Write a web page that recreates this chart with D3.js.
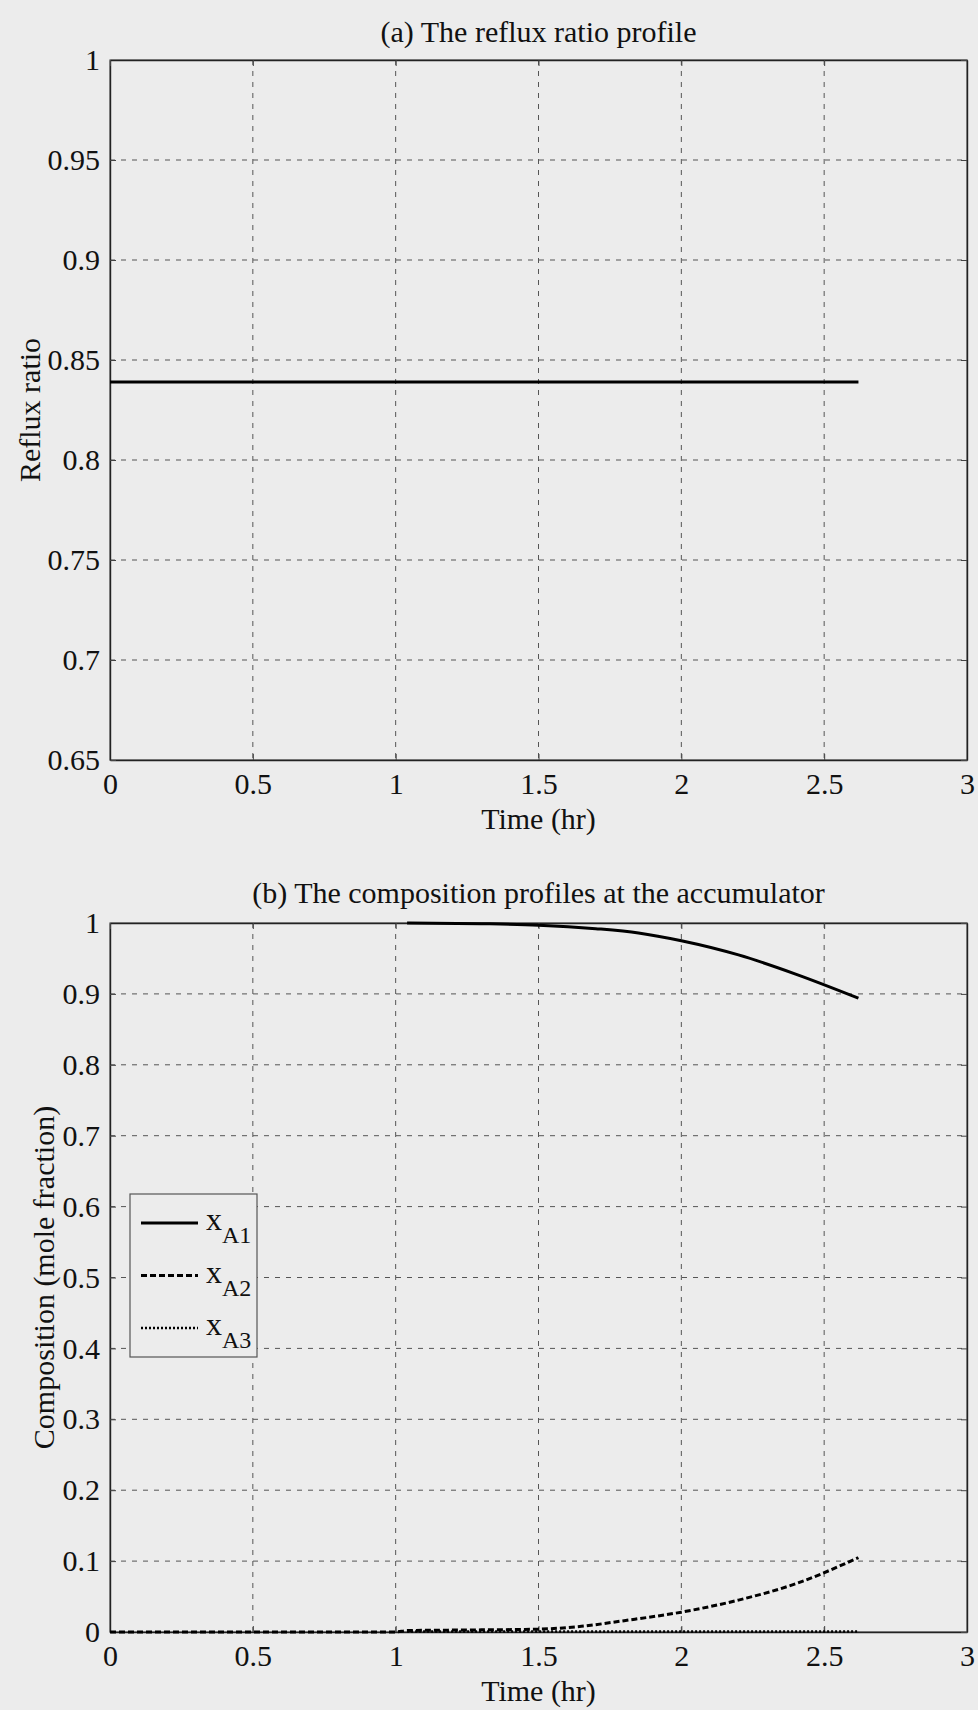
<!DOCTYPE html>
<html>
<head>
<meta charset="utf-8">
<script src="https://cdn.jsdelivr.net/npm/d3@7"></script>
<style>
  html, body { margin: 0; padding: 0; background: #ececec; }
  svg { display: block; }
  text { font-family: "Liberation Serif", "Times New Roman", serif; fill: #111; }
</style>
</head>
<body>
<svg id="chart" width="978" height="1710"></svg>
<script>
// ---------- data ----------
const xTicks = [0, 0.5, 1, 1.5, 2, 2.5, 3];
const xTickLabels = ["0", "0.5", "1", "1.5", "2", "2.5", "3"];

const refluxTicks = [0.65, 0.7, 0.75, 0.8, 0.85, 0.9, 0.95, 1];
const refluxTickLabels = ["0.65", "0.7", "0.75", "0.8", "0.85", "0.9", "0.95", "1"];
const refluxTime = [0, 2.62];
const refluxRatio = [0.839, 0.839];

const compTicks = [0, 0.1, 0.2, 0.3, 0.4, 0.5, 0.6, 0.7, 0.8, 0.9, 1];
const compTickLabels = ["0", "0.1", "0.2", "0.3", "0.4", "0.5", "0.6", "0.7", "0.8", "0.9", "1"];

const timeA1 = [1.04, 1.3, 1.5, 1.7, 1.85, 2.0, 2.2, 2.4, 2.62];
const xA1 = [1.0, 0.999, 0.997, 0.992, 0.986, 0.975, 0.955, 0.928, 0.894];

const timeA2 = [0, 0.5, 1.0, 1.04, 1.3, 1.5, 1.65, 1.8, 2.0, 2.2, 2.4, 2.62];
const xA2 = [0, 0, 0, 0.002, 0.003, 0.004, 0.008, 0.016, 0.028, 0.045, 0.068, 0.105];

const timeA3 = [1.04, 1.5, 2.0, 2.62];
const xA3 = [0.0008, 0.0008, 0.0008, 0.0008];

const legendNames = [["x", "A1"], ["x", "A2"], ["x", "A3"]];
const legendDash = [null, "6,3", "2,2"];

// ---------- layout ----------
const svg = d3.select("#chart");
const left = 110, right = 967;
const FONT = 30;

function panel(cfg) {
  const g = svg.append("g");
  const x = d3.scaleLinear().domain([0, 3]).range([left, right]);
  const y = d3.scaleLinear().domain(cfg.yDomain).range([cfg.bottom, cfg.top]);

  // grid
  g.append("g").selectAll("line.vg").data(xTicks.slice(1, -1)).join("line")
    .attr("x1", d => x(d)).attr("x2", d => x(d))
    .attr("y1", cfg.top).attr("y2", cfg.bottom)
    .attr("stroke", "#555").attr("stroke-width", 1).attr("stroke-dasharray", "5,6");
  g.append("g").selectAll("line.hg").data(cfg.yTicks.slice(1, -1)).join("line")
    .attr("x1", left).attr("x2", right)
    .attr("y1", d => y(d)).attr("y2", d => y(d))
    .attr("stroke", "#555").attr("stroke-width", 1).attr("stroke-dasharray", "5,6");

  // box
  g.append("rect").attr("x", left).attr("y", cfg.top)
    .attr("width", right - left).attr("height", cfg.bottom - cfg.top)
    .attr("fill", "none").attr("stroke", "#555").attr("stroke-width", 1.2);

  // axes
  g.append("g").attr("transform", `translate(0,${cfg.bottom})`)
    .call(d3.axisBottom(x).tickValues(xTicks).tickFormat((d, i) => xTickLabels[i])
      .tickSizeInner(-6).tickSizeOuter(0).tickPadding(13));
  g.append("g").attr("transform", `translate(${left},0)`)
    .call(d3.axisLeft(y).tickValues(cfg.yTicks).tickFormat((d, i) => cfg.yTickLabels[i])
      .tickSizeInner(-6).tickSizeOuter(0).tickPadding(10));
  g.append("g").attr("transform", `translate(0,${cfg.top})`)
    .call(d3.axisTop(x).tickValues(xTicks).tickFormat("").tickSizeInner(-6).tickSizeOuter(0));
  g.append("g").attr("transform", `translate(${right},0)`)
    .call(d3.axisRight(y).tickValues(cfg.yTicks).tickFormat("").tickSizeInner(-6).tickSizeOuter(0));
  g.selectAll(".domain").attr("stroke", "#222").attr("stroke-width", 1.4);
  g.selectAll(".tick line").attr("stroke", "#444");
  g.selectAll(".tick text").attr("font-size", FONT).attr("font-family", "Liberation Serif").attr("fill", "#111");

  // titles
  g.append("text").attr("x", (left + right) / 2).attr("y", cfg.titleY)
    .attr("text-anchor", "middle").attr("font-size", FONT).text(cfg.title);
  g.append("text").attr("x", (left + right) / 2).attr("y", cfg.xLabelY)
    .attr("text-anchor", "middle").attr("font-size", FONT).text("Time (hr)");
  g.append("text")
    .attr("transform", `translate(${cfg.yLabelX},${(cfg.top + cfg.bottom) / 2}) rotate(-90)`)
    .attr("text-anchor", "middle").attr("font-size", FONT).text(cfg.yLabel);

  return { g, x, y };
}

// ---------- panel (a) ----------
const pa = panel({
  top: 60, bottom: 760, yDomain: [0.65, 1],
  yTicks: refluxTicks, yTickLabels: refluxTickLabels,
  title: "(a) The reflux ratio profile", titleY: 42, xLabelY: 829,
  yLabel: "Reflux ratio", yLabelX: 40
});
pa.g.append("path")
  .datum(refluxTime.map((t, i) => [t, refluxRatio[i]]))
  .attr("d", d3.line().x(d => pa.x(d[0])).y(d => pa.y(d[1])))
  .attr("fill", "none").attr("stroke", "#000").attr("stroke-width", 3);

// ---------- panel (b) ----------
const pb = panel({
  top: 923, bottom: 1632, yDomain: [0, 1],
  yTicks: compTicks, yTickLabels: compTickLabels,
  title: "(b) The composition profiles at the accumulator", titleY: 903, xLabelY: 1701,
  yLabel: "Composition (mole fraction)", yLabelX: 54
});
const series = [
  [timeA1, xA1, null, 3],
  [timeA2, xA2, "6,3", 3],
  [timeA3, xA3, "2,2", 2.5]
];
series.forEach(([ts, vs, dash, w]) => {
  pb.g.append("path")
    .datum(ts.map((t, i) => [t, vs[i]]))
    .attr("d", d3.line().curve(d3.curveMonotoneX).x(d => pb.x(d[0])).y(d => pb.y(d[1])))
    .attr("fill", "none").attr("stroke", "#000").attr("stroke-width", w)
    .attr("stroke-dasharray", dash);
});

// legend
const lg = pb.g.append("g");
lg.append("rect").attr("x", 130).attr("y", 1194).attr("width", 127).attr("height", 163)
  .attr("fill", "#ececec").attr("stroke", "#555").attr("stroke-width", 1.2);
legendNames.forEach((nm, i) => {
  const yy = 1223 + i * 52.5;
  lg.append("line").attr("x1", 141).attr("x2", 198).attr("y1", yy).attr("y2", yy)
    .attr("stroke", "#000").attr("stroke-width", i === 2 ? 2.5 : 3)
    .attr("stroke-dasharray", legendDash[i]);
  const t = lg.append("text").attr("x", 206).attr("y", yy + 7).attr("font-size", 32);
  t.append("tspan").text(nm[0]);
  t.append("tspan").attr("dy", 13).attr("font-size", 24).text(nm[1]);
});
</script>
</body>
</html>
